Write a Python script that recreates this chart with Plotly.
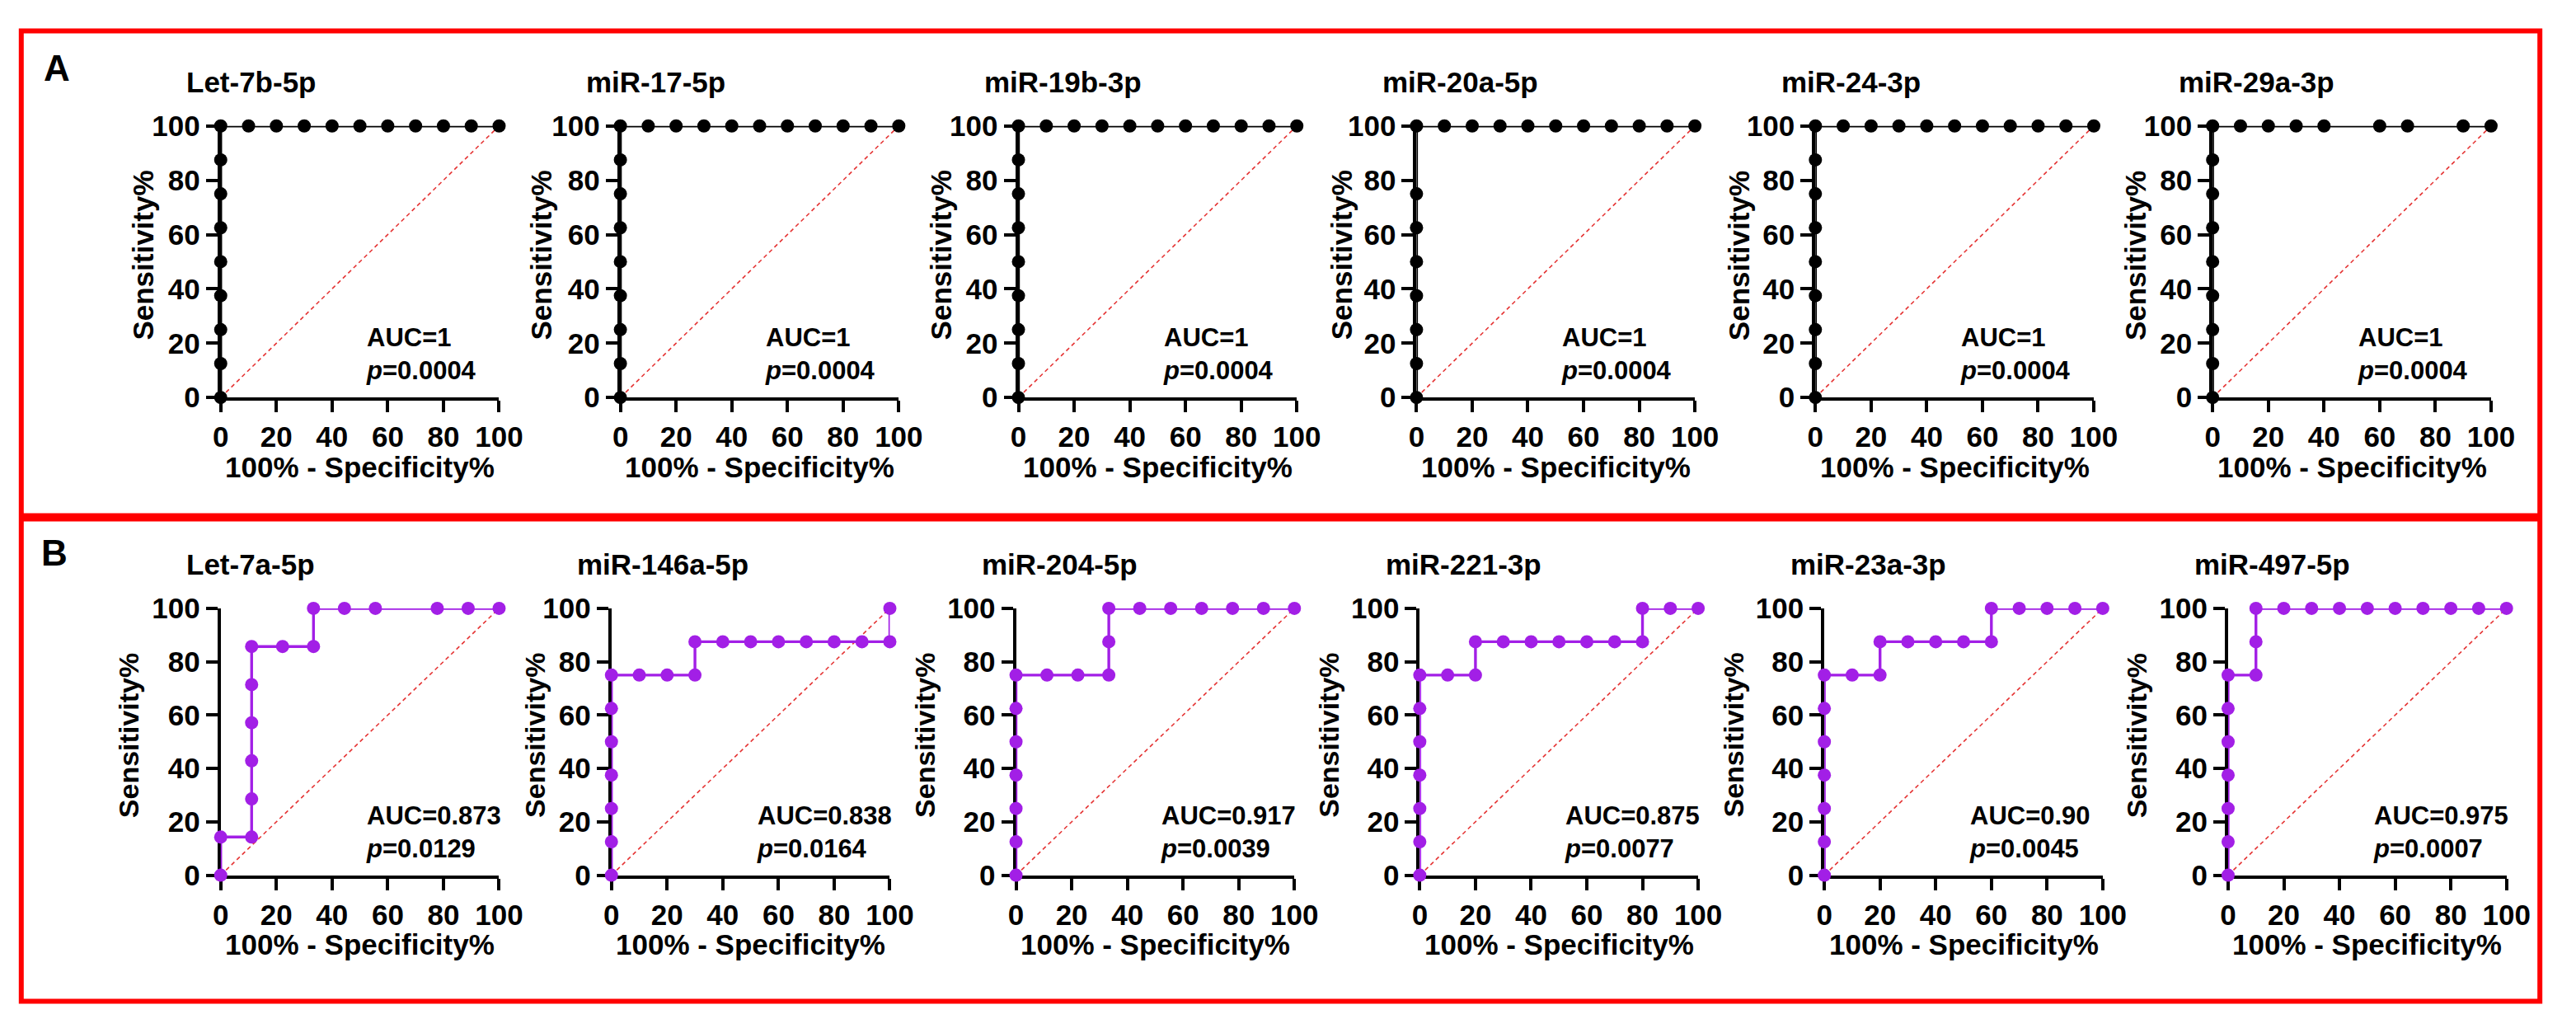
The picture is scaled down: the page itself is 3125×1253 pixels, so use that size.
import plotly.graph_objects as go

W, H = 3125, 1253
FONT = "Liberation Sans, Arial, sans-serif"

# ---------------- data ----------------
a_names = ["Let-7b-5p", "miR-17-5p", "miR-19b-3p", "miR-20a-5p", "miR-24-3p", "miR-29a-3p"]
a_auc = ["AUC=1", "AUC=1", "AUC=1", "AUC=1", "AUC=1", "AUC=1"]
a_p = ["0.0004", "0.0004", "0.0004", "0.0004", "0.0004", "0.0004"]

let7b_x = [0, 0, 0, 0, 0, 0, 0, 0, 0, 10, 20, 30, 40, 50, 60, 70, 80, 90, 100]
let7b_y = [0, 12.5, 25, 37.5, 50, 62.5, 75, 87.5, 100, 100, 100, 100, 100, 100, 100, 100, 100, 100, 100]
mir17_x = [0, 0, 0, 0, 0, 0, 0, 0, 0, 10, 20, 30, 40, 50, 60, 70, 80, 90, 100]
mir17_y = [0, 12.5, 25, 37.5, 50, 62.5, 75, 87.5, 100, 100, 100, 100, 100, 100, 100, 100, 100, 100, 100]
mir19b_x = [0, 0, 0, 0, 0, 0, 0, 0, 0, 10, 20, 30, 40, 50, 60, 70, 80, 90, 100]
mir19b_y = [0, 12.5, 25, 37.5, 50, 62.5, 75, 87.5, 100, 100, 100, 100, 100, 100, 100, 100, 100, 100, 100]
mir20a_x = [0, 0, 0, 0, 0, 0, 0, 0, 10, 20, 30, 40, 50, 60, 70, 80, 90, 100]
mir20a_y = [0, 12.5, 25, 37.5, 50, 62.5, 75, 100, 100, 100, 100, 100, 100, 100, 100, 100, 100, 100]
mir24_x = [0, 0, 0, 0, 0, 0, 0, 0, 0, 10, 20, 30, 40, 50, 60, 70, 80, 90, 100]
mir24_y = [0, 12.5, 25, 37.5, 50, 62.5, 75, 87.5, 100, 100, 100, 100, 100, 100, 100, 100, 100, 100, 100]
mir29a_x = [0, 0, 0, 0, 0, 0, 0, 0, 0, 10, 20, 30, 40, 60, 70, 90, 100]
mir29a_y = [0, 12.5, 25, 37.5, 50, 62.5, 75, 87.5, 100, 100, 100, 100, 100, 100, 100, 100, 100]

b_names = ["Let-7a-5p", "miR-146a-5p", "miR-204-5p", "miR-221-3p", "miR-23a-3p", "miR-497-5p"]
b_auc = ["AUC=0.873", "AUC=0.838", "AUC=0.917", "AUC=0.875", "AUC=0.90", "AUC=0.975"]
b_p = ["0.0129", "0.0164", "0.0039", "0.0077", "0.0045", "0.0007"]

let7a_x = [0, 0, 11.11, 11.11, 11.11, 11.11, 11.11, 11.11, 22.22, 33.33, 33.33, 44.44, 55.56, 77.78, 88.89, 100]
let7a_y = [0, 14.29, 14.29, 28.57, 42.86, 57.14, 71.43, 85.71, 85.71, 85.71, 100, 100, 100, 100, 100, 100]
mir146a_x = [0, 0, 0, 0, 0, 0, 0, 10, 20, 30, 30, 40, 50, 60, 70, 80, 90, 100, 100]
mir146a_y = [0, 12.5, 25, 37.5, 50, 62.5, 75, 75, 75, 75, 87.5, 87.5, 87.5, 87.5, 87.5, 87.5, 87.5, 87.5, 100]
mir204_x = [0, 0, 0, 0, 0, 0, 0, 11.11, 22.22, 33.33, 33.33, 33.33, 44.44, 55.56, 66.67, 77.78, 88.89, 100]
mir204_y = [0, 12.5, 25, 37.5, 50, 62.5, 75, 75, 75, 75, 87.5, 100, 100, 100, 100, 100, 100, 100]
mir221_x = [0, 0, 0, 0, 0, 0, 0, 10, 20, 20, 30, 40, 50, 60, 70, 80, 80, 90, 100]
mir221_y = [0, 12.5, 25, 37.5, 50, 62.5, 75, 75, 75, 87.5, 87.5, 87.5, 87.5, 87.5, 87.5, 87.5, 100, 100, 100]
mir23a_x = [0, 0, 0, 0, 0, 0, 0, 10, 20, 20, 30, 40, 50, 60, 60, 70, 80, 90, 100]
mir23a_y = [0, 12.5, 25, 37.5, 50, 62.5, 75, 75, 75, 87.5, 87.5, 87.5, 87.5, 87.5, 100, 100, 100, 100, 100]
mir497_x = [0, 0, 0, 0, 0, 0, 0, 10, 10, 10, 20, 30, 40, 50, 60, 70, 80, 90, 100]
mir497_y = [0, 12.5, 25, 37.5, 50, 62.5, 75, 75, 87.5, 100, 100, 100, 100, 100, 100, 100, 100, 100, 100]

diag_x = [0, 100]
diag_y = [0, 100]
tick_vals = [0, 20, 40, 60, 80, 100]
tick_text = ["0", "20", "40", "60", "80", "100"]
x_title = "100% - Specificity%"
y_title = "Sensitivity%"

a_series = [(let7b_x, let7b_y), (mir17_x, mir17_y), (mir19b_x, mir19b_y),
            (mir20a_x, mir20a_y), (mir24_x, mir24_y), (mir29a_x, mir29a_y)]
b_series = [(let7a_x, let7a_y), (mir146a_x, mir146a_y), (mir204_x, mir204_y),
            (mir221_x, mir221_y), (mir23a_x, mir23a_y), (mir497_x, mir497_y)]

# ---------------- layout geometry (pixels) ----------------
a_x0 = [261, 752, 1241, 1730, 2220, 2708]
b_x0 = [261, 741, 1238, 1734, 2231, 2727]
PW = 342
a_ytop, a_ybot = 137, 477
b_ytop, b_ybot = 741, 1075
a_ytitle_off = [95, 97, 95, 92, 94, 95]
b_ytitle_off = [113, 94, 112, 112, 112, 112]

BLACK = "#000000"
PURPLE = "#A21FE6"
RED = "#FF0000"


def fx(px):
    return px / W


def fy(py):
    return 1 - py / H


fig = go.Figure()
annotations = []
layout_axes = {}

panels = []
for i in range(6):
    panels.append((a_x0[i], a_ytop, a_ybot, a_series[i], a_names[i], a_auc[i], a_p[i], BLACK, a_ytitle_off[i], 35))
for i in range(6):
    panels.append((b_x0[i], b_ytop, b_ybot, b_series[i], b_names[i], b_auc[i], b_p[i], PURPLE, b_ytitle_off[i], 34))

for k, (x0, yt, yb, (sx, sy), name, auc, pv, col, yoff, ytsize) in enumerate(panels):
    n = k + 1
    xa = "x" if n == 1 else f"x{n}"
    ya = "y" if n == 1 else f"y{n}"
    xkey = "xaxis" if n == 1 else f"xaxis{n}"
    ykey = "yaxis" if n == 1 else f"yaxis{n}"

    fig.add_trace(go.Scatter(x=diag_x, y=diag_y, mode="lines", xaxis=xa, yaxis=ya,
                             line=dict(color="#E53535", width=1.6, dash="5px,4px"),
                             showlegend=False, hoverinfo="skip", cliponaxis=False))
    fig.add_trace(go.Scatter(x=sx, y=sy, mode="lines+markers", xaxis=xa, yaxis=ya,
                             line=dict(color=col, width=3.4),
                             marker=dict(color=col, size=16, line=dict(width=0)),
                             showlegend=False, cliponaxis=False))

    axis_common = dict(range=[0, 100], tickvals=tick_vals, ticktext=tick_text,
                       showgrid=False, zeroline=False, showline=True,
                       linecolor="black", linewidth=4, ticks="outside",
                       ticklen=14, tickwidth=4, tickcolor="black",
                       tickfont=dict(family=FONT, size=35, color="black", weight="bold"),
                       layer="below traces", fixedrange=True)
    layout_axes[xkey] = dict(axis_common, domain=[fx(x0), fx(x0 + PW)], anchor=ya)
    layout_axes[ykey] = dict(axis_common, domain=[fy(yb), fy(yt)], anchor=xa)

    # panel title
    annotations.append(dict(x=fx(x0 - 44), y=fy(yt - 55), xref="paper", yref="paper",
                            xanchor="left", yanchor="middle", showarrow=False,
                            text=f"<b>{name}</b>",
                            font=dict(family=FONT, size=35, color="black")))
    # x title
    annotations.append(dict(x=fx(x0 + PW / 2), y=fy(yb + 87), xref="paper", yref="paper",
                            xanchor="center", yanchor="middle", showarrow=False,
                            text=f"<b>{x_title}</b>",
                            font=dict(family=FONT, size=35, color="black")))
    # y title
    annotations.append(dict(x=fx(x0 - yoff), y=fy((yt + yb) / 2 - 8), xref="paper", yref="paper",
                            xanchor="center", yanchor="middle", showarrow=False, textangle=-90,
                            text=f"<b>{y_title}</b>",
                            font=dict(family=FONT, size=ytsize, color="black")))
    # AUC / p
    annotations.append(dict(x=fx(x0 + 176), y=fy(yb - 54), xref="paper", yref="paper",
                            xanchor="left", yanchor="middle", showarrow=False, align="left",
                            text=f"<b>{auc}</b><br><b><i>p</i>={pv}</b>",
                            font=dict(family=FONT, size=31, color="black")))

# panel letters
annotations.append(dict(x=fx(60), y=fy(64), xref="paper", yref="paper", showarrow=False,
                        xanchor="center", yanchor="middle", text="<b>A</b>",
                        font=dict(family=FONT, size=44, color="black")))
annotations.append(dict(x=fx(57), y=fy(671), xref="paper", yref="paper", showarrow=False,
                        xanchor="center", yanchor="middle", text="<b>B</b>",
                        font=dict(family=FONT, size=44, color="black")))

shapes = [
    dict(type="rect", xref="paper", yref="paper", x0=fx(16), x1=fx(3110), y0=fy(1233), y1=fy(18),
         line=dict(color=RED, width=6), fillcolor="rgba(0,0,0,0)", layer="below"),
    dict(type="line", xref="paper", yref="paper", x0=fx(16), x1=fx(3110), y0=fy(627), y1=fy(627),
         line=dict(color=RED, width=10), layer="below"),
]

fig.update_layout(width=W, height=H, margin=dict(l=0, r=0, t=0, b=0),
                  paper_bgcolor="white", plot_bgcolor="white",
                  annotations=annotations, shapes=shapes, showlegend=False,
                  **layout_axes)

fig.write_html("out.html",
               config={"displayModeBar": False},
               post_script="document.body.style.margin='0px';document.body.style.overflow='hidden';")
